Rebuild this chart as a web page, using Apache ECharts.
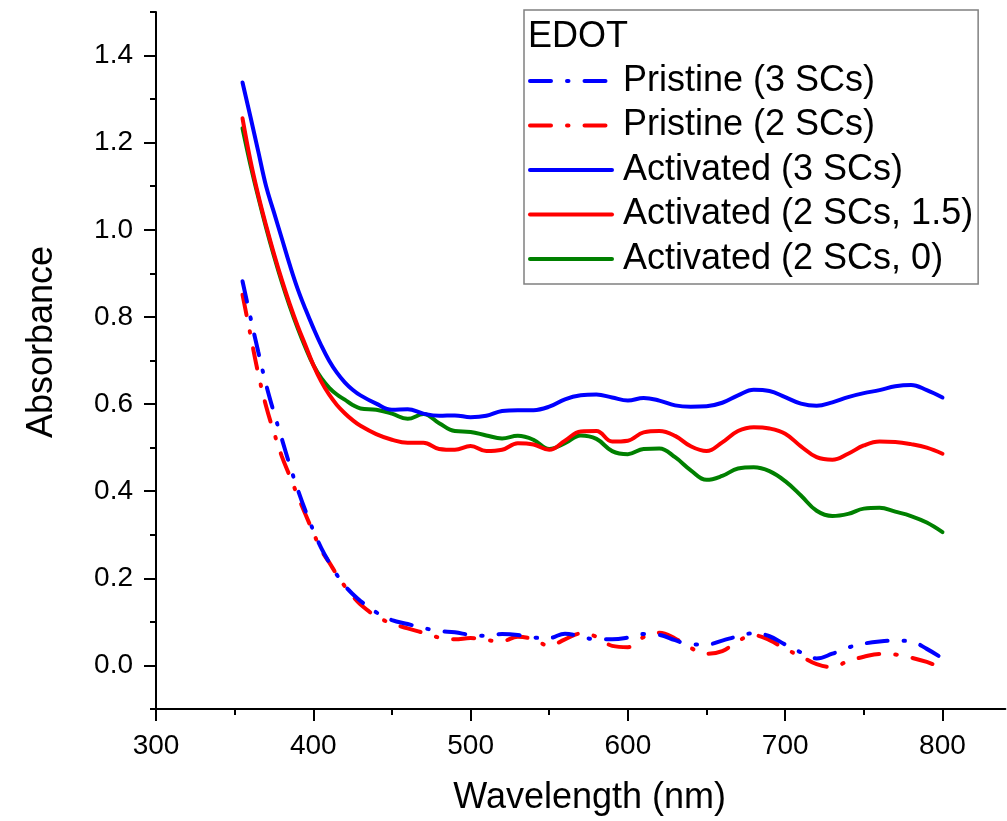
<!DOCTYPE html>
<html>
<head>
<meta charset="utf-8">
<script src="https://cdn.jsdelivr.net/npm/echarts@6/dist/echarts.min.js"></script>
<style>
html,body{margin:0;padding:0;background:#ffffff;}
#chart{width:1007px;height:821px;}
</style>
</head>
<body>
<div id="chart"></div>
<script>
const wavelength = [355,360,365,370,375,380,385,390,395,400,405,410,415,420,425,430,440,450,460,470,480,490,500,510,520,530,540,550,560,570,580,590,600,610,620,630,640,650,660,670,680,690,700,710,720,730,740,750,760,770,780,790,800];

const pristine3 = [0.882,0.80,0.72,0.645,0.58,0.52,0.46,0.405,0.355,0.31,0.27,0.237,0.208,0.183,0.164,0.148,0.122,0.104,0.095,0.086,0.079,0.076,0.070,0.068,0.072,0.070,0.064,0.063,0.073,0.066,0.060,0.060,0.064,0.072,0.070,0.058,0.048,0.048,0.057,0.067,0.074,0.067,0.048,0.030,0.016,0.027,0.041,0.050,0.055,0.057,0.055,0.038,0.016];

const pristine2 = [0.851,0.76,0.67,0.595,0.535,0.48,0.435,0.39,0.347,0.305,0.265,0.237,0.208,0.182,0.159,0.140,0.113,0.096,0.085,0.075,0.064,0.060,0.063,0.058,0.056,0.066,0.060,0.045,0.060,0.073,0.066,0.045,0.042,0.065,0.075,0.062,0.040,0.027,0.033,0.056,0.069,0.058,0.038,0.021,0.003,-0.004,0.010,0.020,0.026,0.025,0.018,0.008,-0.006];

const activated3 = [1.338,1.26,1.18,1.10,1.04,0.98,0.92,0.865,0.818,0.775,0.735,0.70,0.672,0.650,0.633,0.620,0.601,0.587,0.588,0.578,0.573,0.574,0.570,0.573,0.584,0.586,0.586,0.594,0.611,0.620,0.622,0.615,0.608,0.614,0.608,0.597,0.594,0.595,0.603,0.620,0.633,0.630,0.616,0.601,0.596,0.604,0.616,0.625,0.632,0.641,0.644,0.632,0.615];

const activated2_15 = [1.256,1.16,1.08,1.01,0.945,0.885,0.83,0.78,0.735,0.69,0.652,0.622,0.598,0.579,0.563,0.550,0.531,0.518,0.511,0.511,0.497,0.495,0.504,0.492,0.495,0.510,0.507,0.495,0.516,0.537,0.538,0.514,0.516,0.535,0.538,0.527,0.503,0.492,0.512,0.538,0.547,0.544,0.532,0.503,0.478,0.472,0.486,0.505,0.514,0.513,0.508,0.500,0.486];

const activated2_0 = [1.233,1.15,1.075,1.005,0.94,0.88,0.825,0.775,0.73,0.69,0.66,0.638,0.622,0.610,0.598,0.590,0.587,0.578,0.566,0.577,0.556,0.538,0.536,0.528,0.521,0.527,0.518,0.497,0.510,0.528,0.520,0.492,0.485,0.497,0.498,0.478,0.448,0.426,0.435,0.452,0.455,0.446,0.423,0.390,0.355,0.343,0.348,0.360,0.362,0.353,0.343,0.328,0.306];

const seriesNames = ['Pristine (3 SCs)','Pristine (2 SCs)','Activated (3 SCs)','Activated (2 SCs, 1.5)','Activated (2 SCs, 0)'];
const seriesColors = ['#0000ff','#ff0000','#0000ff','#ff0000','#008000'];
const seriesDashed = [true,true,false,false,false];
const seriesValues = [pristine3,pristine2,activated3,activated2_15,activated2_0];

const xMajorTicks = [300,400,500,600,700,800];
const xMinorTicks = [350,450,550,650,750];
const yMajorTicks = [0,0.2,0.4,0.6,0.8,1.0,1.2,1.4];
const yMinorTicks = [-0.1,0.1,0.3,0.5,0.7,0.9,1.1,1.3,1.5];

const legendTitle = 'EDOT';
const xName = 'Wavelength (nm)';
const yName = 'Absorbance';

const FONT = 'Liberation Sans, Arial, Helvetica, sans-serif';
const X_MIN = 300, X_MAX = 840, Y_MIN = -0.1, Y_MAX = 1.5;

const chart = echarts.init(document.getElementById('chart'), null, {renderer:'canvas'});

const series = seriesNames.map((name, k) => ({
  name: name,
  type: 'line',
  xAxisIndex: 0,
  yAxisIndex: 0,
  symbol: 'none',
  smooth: 0.4,
  data: wavelength.map((w, i) => [w, seriesValues[k][i]]),
  lineStyle: {
    color: seriesColors[k],
    width: 4,
    type: seriesDashed[k] ? [21, 16, 1.5, 16] : 'solid',
    cap: 'round'
  },
  itemStyle: { color: seriesColors[k] },
  z: 10 - k
}));

const axisLineStyle = { color: '#000', width: 2 };

chart.setOption({
  animation: false,
  backgroundColor: '#ffffff',
  title: {
    text: legendTitle,
    left: 523,
    top: 14,
    padding: 5,
    textStyle: { fontFamily: FONT, fontSize: 36, fontWeight: 'normal', color: '#000' }
  },
  legend: {
    orient: 'vertical',
    left: 524,
    top: 10,
    padding: [49, 5, 3, 4],
    itemWidth: 82,
    itemHeight: 14,
    itemGap: 0.5,
    borderColor: '#808080',
    borderWidth: 1.5,
    backgroundColor: '#ffffff',
    itemStyle: { color: 'rgba(0,0,0,0)', borderWidth: 0, opacity: 0 },
    lineStyle: { width: 4, cap: 'round' },
    textStyle: { fontFamily: FONT, fontSize: 36, color: '#000', lineHeight: 44, padding: [0, 0, 0, 6] },
    data: seriesNames
  },
  grid: { left: 156, top: 12, width: 849.4, height: 698, containLabel: false },
  xAxis: [
    {
      type: 'value', min: X_MIN, max: X_MAX, position: 'bottom',
      name: xName, nameLocation: 'middle', nameGap: 71,
      nameTextStyle: { fontFamily: FONT, fontSize: 36, color: '#000', padding: [0, 0, 0, 18] },
      axisLine: { show: true, onZero: false, lineStyle: axisLineStyle },
      axisTick: { show: true, length: 12, lineStyle: axisLineStyle, customValues: xMajorTicks },
      axisLabel: { show: true, margin: 23, fontFamily: FONT, fontSize: 28, color: '#000', customValues: xMajorTicks },
      splitLine: { show: false }
    },
    {
      type: 'value', min: X_MIN, max: X_MAX, position: 'bottom',
      axisLine: { show: false, onZero: false },
      axisTick: { show: true, length: 6, lineStyle: axisLineStyle, customValues: xMinorTicks },
      axisLabel: { show: false },
      splitLine: { show: false }
    }
  ],
  yAxis: [
    {
      type: 'value', min: Y_MIN, max: Y_MAX, position: 'left',
      name: yName, nameLocation: 'middle', nameGap: 96, nameRotate: 90,
      nameTextStyle: { fontFamily: FONT, fontSize: 36, color: '#000', padding: [0, 0, 0, 37] },
      axisLine: { show: true, onZero: false, lineStyle: axisLineStyle },
      axisTick: { show: true, length: 12, lineStyle: axisLineStyle, customValues: yMajorTicks },
      axisLabel: { show: true, margin: 23, fontFamily: FONT, fontSize: 28, color: '#000', customValues: yMajorTicks,
        formatter: v => v.toFixed(1) },
      splitLine: { show: false }
    },
    {
      type: 'value', min: Y_MIN, max: Y_MAX, position: 'left',
      axisLine: { show: false, onZero: false },
      axisTick: { show: true, length: 6, lineStyle: axisLineStyle, customValues: yMinorTicks },
      axisLabel: { show: false },
      splitLine: { show: false }
    }
  ],
  series: series
});
</script>
</body>
</html>
